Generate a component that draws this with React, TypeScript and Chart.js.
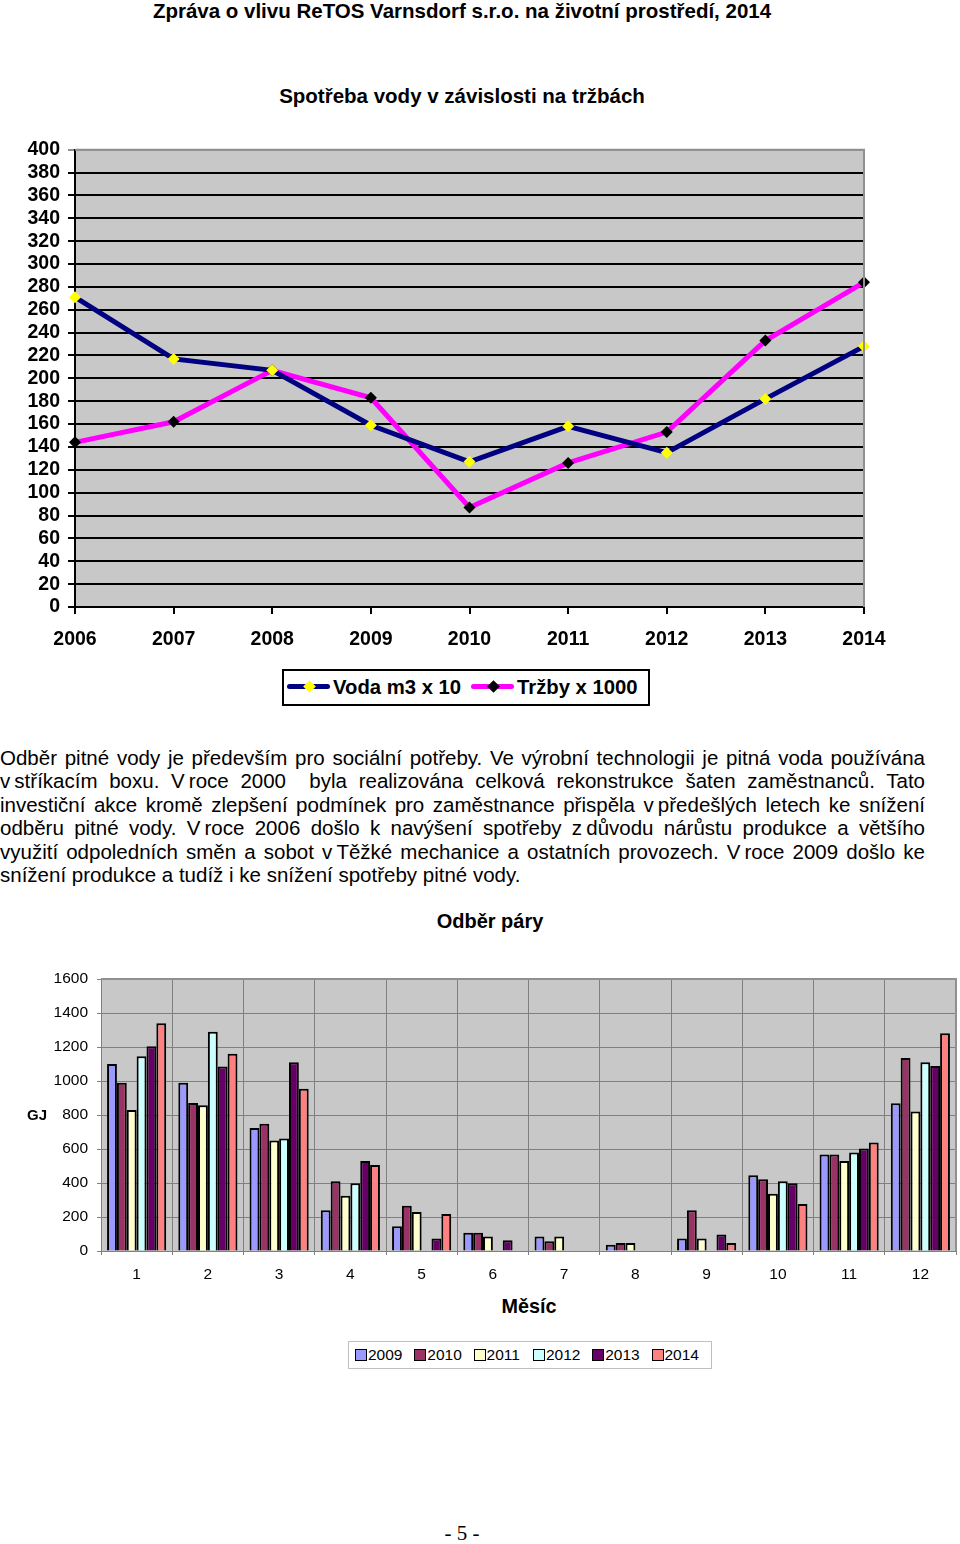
import React, { useEffect, useRef } from "react";
import { Chart, registerables } from "chart.js";

Chart.register(...registerables);

// ---- Line chart data ----
const years = ["2006", "2007", "2008", "2009", "2010", "2011", "2012", "2013", "2014"];
const vodaValues = [271, 217, 207, 159, 127, 158, 135, 182, 228];
const trzbyValues = [144, 162, 207, 183, 87, 126, 153, 233, 284];

// ---- Bar chart data ----
const months = ["1", "2", "3", "4", "5", "6", "7", "8", "9", "10", "11", "12"];
const seriesYears = ["2009", "2010", "2011", "2012", "2013", "2014"];
const para2009 = [1100, 990, 723, 240, 146, 108, 85, 37, 73, 445, 567, 869];
const para2010 = [990, 870, 748, 410, 266, 108, 57, 47, 240, 422, 567, 1135];
const para2011 = [830, 857, 650, 325, 230, 85, 85, 47, 73, 337, 530, 820];
const para2012 = [1145, 1290, 662, 398, 0, 0, 0, 0, 0, 410, 579, 1111];
const para2013 = [1205, 1085, 1111, 530, 73, 63, 0, 0, 97, 398, 603, 1088];
const para2014 = [1340, 1160, 954, 506, 217, 0, 0, 0, 47, 276, 638, 1281];
const barColors = ["#9999FF", "#993366", "#FFFFCC", "#CCFFFF", "#660066", "#FF8080"];

const ARIAL = "'Liberation Sans', Arial, sans-serif";
const PLOT_BG = "#C8C8C8";

const plotFrame = (borderColor: string) => ({
  id: "plotFrame",
  beforeDraw(chart: any) {
    const { ctx, chartArea } = chart;
    ctx.save();
    ctx.fillStyle = PLOT_BG;
    ctx.fillRect(chartArea.left, chartArea.top, chartArea.right - chartArea.left, chartArea.bottom - chartArea.top);
    ctx.restore();
  },
  afterDatasetsDraw(chart: any) {
    const { ctx, chartArea } = chart;
    ctx.save();
    ctx.strokeStyle = borderColor;
    ctx.lineWidth = 2;
    ctx.beginPath();
    ctx.moveTo(chartArea.left, chartArea.top);
    ctx.lineTo(chartArea.right, chartArea.top);
    ctx.lineTo(chartArea.right, chartArea.bottom);
    ctx.stroke();
    ctx.restore();
  },
});

function LineChart() {
  const ref = useRef<HTMLCanvasElement>(null);
  useEffect(() => {
    const chart = new Chart(ref.current!, {
      type: "line",
      data: {
        labels: years,
        datasets: [
          {
            label: "Voda m3 x 10",
            data: vodaValues,
            borderColor: "#000080",
            borderWidth: 5,
            pointStyle: "rectRot",
            pointRadius: 6,
            pointBackgroundColor: "#FFFF00",
            pointBorderColor: "#FFFF00",
            pointBorderWidth: 0,
            tension: 0,
            clip: false,
          },
          {
            label: "Tržby x 1000",
            data: trzbyValues,
            borderColor: "#FF00FF",
            borderWidth: 5,
            pointStyle: "rectRot",
            pointRadius: 6,
            pointBackgroundColor: "#000000",
            pointBorderColor: "#000000",
            pointBorderWidth: 0,
            tension: 0,
            clip: false,
          },
        ],
      },
      options: {
        animation: false,
        responsive: false,
        layout: { padding: { top: 18, right: 36, left: 0, bottom: 0 } },
        plugins: { legend: { display: false }, tooltip: { enabled: false }, title: { display: false } },
        scales: {
          x: {
            type: "category",
            offset: false,
            grid: { display: true, drawOnChartArea: false, drawTicks: true, tickLength: 7, color: "#000", lineWidth: 2 },
            border: { display: true, color: "#000", width: 2 },
            ticks: { color: "#000", font: { family: ARIAL, size: 19.5, weight: "bold" }, padding: 14, maxRotation: 0, autoSkip: false },
            afterFit: (s: any) => { s.height = 45; },
          },
          y: {
            min: 0,
            max: 400,
            ticks: { stepSize: 20, autoSkip: false, color: "#000", font: { family: ARIAL, size: 19.5, weight: "bold" }, padding: 8 },
            grid: {
              color: (c: any) => (c.tick && c.tick.value === 400 ? "#909090" : "#000"),
              lineWidth: 2,
              tickLength: 7,
            },
            border: { display: true, color: "#000", width: 2 },
            afterFit: (s: any) => { s.width = 75; },
          },
        },
      },
      plugins: [plotFrame("#909090")],
    } as any);
    return () => chart.destroy();
  }, []);
  return <canvas ref={ref} width={900} height={522} style={{ position: "absolute", left: 0, top: 130, width: 900, height: 522 }} />;
}

function BarChart() {
  const ref = useRef<HTMLCanvasElement>(null);
  useEffect(() => {
    const series = [para2009, para2010, para2011, para2012, para2013, para2014];
    const chart = new Chart(ref.current!, {
      type: "bar",
      data: {
        labels: months,
        datasets: series.map((d, i) => ({
          label: seriesYears[i],
          data: d,
          backgroundColor: barColors[i],
          borderColor: "#000",
          borderWidth: 2,
          borderSkipped: "bottom",
          categoryPercentage: 0.83,
          barPercentage: 1,
        })),
      },
      options: {
        animation: false,
        responsive: false,
        layout: { padding: { top: 19, right: 4, left: 0, bottom: 0 } },
        plugins: { legend: { display: false }, tooltip: { enabled: false } },
        scales: {
          x: {
            grid: { display: true, offset: true, color: "#808080", lineWidth: 1, tickLength: 4 },
            border: { display: true, color: "#808080", width: 1 },
            ticks: { color: "#000", font: { family: ARIAL, size: 15.5 }, padding: 10, maxRotation: 0, autoSkip: false },
            afterFit: (s: any) => { s.height = 40; },
          },
          y: {
            min: 0,
            max: 1600,
            ticks: {
              stepSize: 200,
              autoSkip: false,
              color: "#000",
              font: { family: ARIAL, size: 15.5 },
              padding: 9,
              callback: (v: any) => String(v),
            },
            grid: { color: "#808080", lineWidth: 1, tickLength: 4 },
            border: { display: true, color: "#808080", width: 1 },
            afterFit: (s: any) => { s.width = 101; },
          },
        },
      },
      plugins: [plotFrame("#909090")],
    } as any);
    return () => chart.destroy();
  }, []);
  return <canvas ref={ref} width={960} height={331} style={{ position: "absolute", left: 0, top: 960, width: 960, height: 331 }} />;
}

const paraLines = [
  "Odběr pitné vody je především pro sociální potřeby. Ve výrobní technologii je pitná voda používána",
  "v\u202Fstříkacím boxu. V\u202Froce 2000 \u00A0byla realizována celková rekonstrukce šaten zaměstnanců. Tato",
  "investiční akce kromě zlepšení podmínek pro zaměstnance přispěla v\u202Fpředešlých letech ke snížení",
  "odběru pitné vody. V\u202Froce 2006 došlo k navýšení spotřeby z\u202Fdůvodu nárůstu produkce a většího",
  "využití odpoledních směn a sobot v\u202FTěžké mechanice a ostatních provozech. V\u202Froce 2009 došlo ke",
  "snížení produkce a tudíž i ke snížení spotřeby pitné vody.",
];

const abs = (left: number, top: number, extra: React.CSSProperties = {}): React.CSSProperties => ({
  position: "absolute",
  left,
  top,
  ...extra,
});

function Diamond({ color, cx }: { color: string; cx: number }) {
  return (
    <div
      style={abs(cx - 4.5, 11, {
        width: 9,
        height: 9,
        background: color,
        transform: "rotate(45deg)",
      })}
    />
  );
}

export default function App() {
  return (
    <div style={{ position: "absolute", left: 0, top: 0, width: 960, height: 1544, background: "#fff", fontFamily: ARIAL, color: "#000" }}>
      <div style={abs(0, -1, { width: 924, textAlign: "center", fontWeight: "bold", fontSize: 20.5, lineHeight: "24px", whiteSpace: "nowrap" })}>
        Zpráva o vlivu ReTOS Varnsdorf s.r.o. na životní prostředí, 2014
      </div>
      <div style={abs(0, 84, { width: 924, textAlign: "center", fontWeight: "bold", fontSize: 20.5, lineHeight: "24px", whiteSpace: "nowrap" })}>
        Spotřeba vody v závislosti na tržbách
      </div>

      <LineChart />

      {/* Line chart legend */}
      <div style={abs(282, 669, { width: 364, height: 33, border: "2px solid #000", background: "#fff" })}>
        <div style={abs(3, 13, { width: 43, height: 5, background: "#000080", borderRadius: 3 })} />
        <Diamond color="#FFFF00" cx={25} />
        <div style={abs(49, 4, { fontWeight: "bold", fontSize: 20.3, lineHeight: "24px", whiteSpace: "nowrap" })}>Voda m3 x 10</div>
        <div style={abs(187, 13, { width: 43, height: 5, background: "#FF00FF", borderRadius: 3 })} />
        <Diamond color="#000000" cx={209} />
        <div style={abs(233, 4, { fontWeight: "bold", fontSize: 20.3, lineHeight: "24px", whiteSpace: "nowrap" })}>Tržby x 1000</div>
      </div>

      {/* Paragraph */}
      <div style={abs(0, 746, { width: 925, fontSize: 20.5, lineHeight: "23.4px" })}>
        {paraLines.map((l, i) => (
          <div
            key={i}
            style={{
              textAlign: i < paraLines.length - 1 ? "justify" : "left",
              textAlignLast: i < paraLines.length - 1 ? "justify" : "left",
              whiteSpace: "nowrap",
            }}
          >
            {l}
          </div>
        ))}
      </div>

      <div style={abs(0, 909, { width: 980, textAlign: "center", fontWeight: "bold", fontSize: 20, lineHeight: "24px" })}>Odběr páry</div>

      <BarChart />

      <div style={abs(27, 1106, { fontWeight: "bold", fontSize: 15, lineHeight: "18px" })}>GJ</div>
      <div style={abs(0, 1294, { width: 1058, textAlign: "center", fontWeight: "bold", fontSize: 19.8, lineHeight: "24px" })}>Měsíc</div>

      {/* Bar legend */}
      <div style={abs(348, 1341, { width: 362, height: 26, border: "1px solid #C0C0C0", background: "#fff" })}>
        {seriesYears.map((y, i) => (
          <div key={y} style={abs(6 + i * 59.3, 4, { display: "flex", alignItems: "center", height: 18 })}>
            <div style={{ width: 10, height: 10, background: barColors[i], border: "1px solid #000" }} />
            <div style={{ fontSize: 15.5, lineHeight: "18px", marginLeft: 1 }}>{y}</div>
          </div>
        ))}
      </div>

      <div style={abs(0, 1520, { width: 924, textAlign: "center", fontFamily: "'Liberation Serif', 'Times New Roman', serif", fontSize: 21, lineHeight: "26px" })}>
        - 5 -
      </div>
    </div>
  );
}
